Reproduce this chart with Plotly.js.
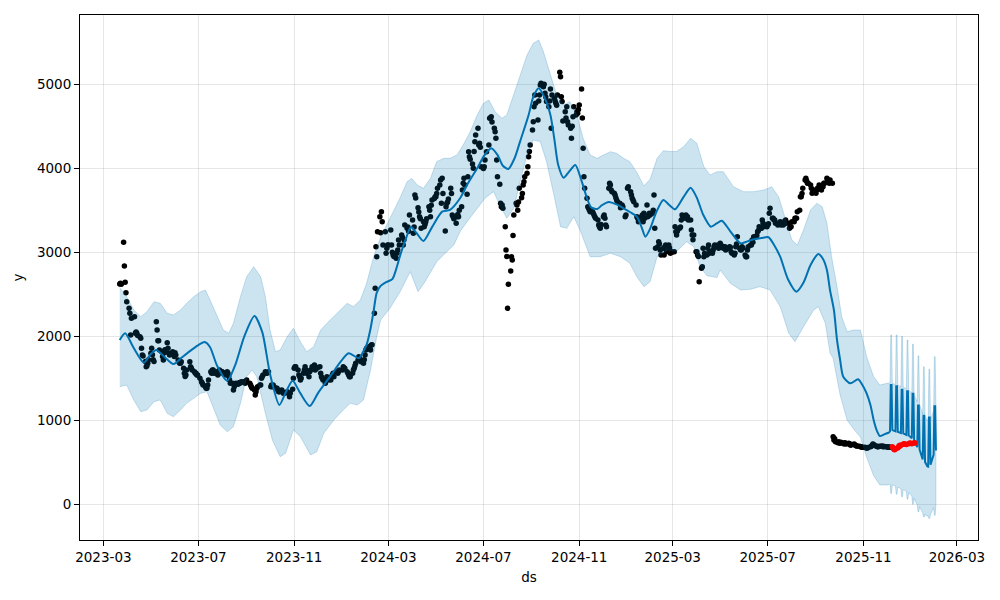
<!DOCTYPE html>
<html>
<head>
<meta charset="utf-8">
<script src="https://cdn.plot.ly/plotly-3.0.1.min.js"></script>
<style>html,body{margin:0;padding:0;background:#fff;}#chart{width:1000px;height:600px;}</style>
</head>
<body>
<div id="chart"></div>
<script>
// ---------- tick labels ----------
const xTickDates = ['2023-03-01','2023-07-01','2023-11-01','2024-03-01','2024-07-01','2024-11-01','2025-03-01','2025-07-01','2025-11-01','2026-03-01'];
const xTickLabels = ['2023-03','2023-07','2023-11','2024-03','2024-07','2024-11','2025-03','2025-07','2025-11','2026-03'];
const yTicks = [0, 1000, 2000, 3000, 4000, 5000];

// ---------- observed data points (history), by month ----------
const obsMonths = ['2023-03','2023-04','2023-05','2023-06','2023-07','2023-08','2023-09','2023-10','2023-11','2023-12',
  '2024-01','2024-02','2024-03','2024-04','2024-05','2024-06','2024-07','2024-08','2024-09','2024-10','2024-11','2024-12',
  '2025-01','2025-02','2025-03','2025-04','2025-05','2025-06','2025-07','2025-08','2025-09','2025-10','2025-11','2025-12'];
const obsDays = [
  [22,23,24,27,28,29,30,31],
  [3,4,5,6,10,11,12,13,14,17,18,19,20,21,24,25,26,27,28],
  [1,2,3,4,5,8,9,10,11,12,15,16,17,18,19,22,23,24,25,26,29,30,31],
  [1,2,5,6,7,8,9,12,13,14,15,16,20,21,22,23,26,27,28,29,30],
  [3,5,6,7,10,11,12,13,14,17,18,19,20,21,24,25,26,27,28,31],
  [1,2,3,4,7,8,9,10,11,14,15,16,17,18,21,22,23,24,25,28,29,30,31],
  [1,5,6,7,8,11,12,13,14,15,18,19,20,21,22,25,26,27,28,29],
  [2,3,4,5,6,9,10,11,12,13,16,17,18,19,20,23,24,25,26,27,30,31],
  [1,2,3,6,7,8,9,10,13,14,15,16,17,20,21,22,24,27,28,29,30],
  [1,4,5,6,7,8,11,12,13,14,15,18,19,20,21,22,26,27,28,29],
  [2,3,4,5,8,9,10,11,12,15,16,17,18,19,22,23,24,25,26,29,30,31],
  [1,2,5,6,7,8,9,12,13,14,15,16,19,20,21,22,23,26,27,28,29],
  [1,4,5,6,7,8,11,12,13,14,15,18,19,20,21,22,25,26,27,28],
  [1,2,3,4,5,8,9,10,11,12,15,16,17,18,19,22,23,24,25,26,29,30],
  [1,2,3,6,7,8,9,10,13,14,15,16,17,20,21,22,23,24,27,28,29,30,31],
  [3,4,5,6,7,10,11,12,13,14,17,18,19,20,21,24,25,26,27,28],
  [1,2,3,5,8,9,10,11,12,15,16,17,18,19,22,23,24,25,26,29,30,31],
  [1,2,5,6,7,8,9,12,13,14,15,16,19,20,21,22,23,26,27,28,29,30],
  [2,3,4,5,6,9,10,11,12,13,16,17,18,19,20,23,24,25,26,27,30],
  [1,2,3,4,7,8,9,10,11,14,15,16,17,18,21,22,23,24,25,28,29,30,31],
  [1,4,5,6,7,8,11,12,13,14,15,18,19,20,21,22,25,26,27,28,29],
  [2,3,4,5,6,9,10,11,12,13,16,17,18,19,20,23,24,26,27,30,31],
  [2,3,6,7,8,9,10,13,14,15,16,17,20,21,22,23,24,27,28,29,30,31],
  [3,4,5,6,7,10,11,12,13,14,17,18,19,20,21,24,25,26,27,28],
  [3,4,5,6,7,10,11,12,13,14,17,18,19,20,21,24,25,26,27,28,31],
  [1,2,3,4,7,8,9,10,11,14,15,16,17,18,21,22,23,24,25,28,29,30],
  [1,2,5,6,7,8,9,12,13,14,15,16,19,20,21,22,23,26,27,28,29,30],
  [2,3,4,5,6,9,10,11,12,13,16,17,18,19,20,23,24,25,26,27,30],
  [1,2,3,4,7,8,9,10,11,14,15,16,17,18,21,22,23,24,25,28,29,30,31],
  [1,4,5,6,7,8,11,12,13,14,15,18,19,20,21,22,25,26,27,28,29],
  [1,2,3,4,5,8,9,10,11,12,15,16,17,18,19,22,23,24,25,26,29,30],
  [1,2,3,6,7,8,9,10,13,14,15,16,17,20,21,22,23,24,27,28,29,30,31],
  [3,4,5,6,7,10,11,12,13,14,17,18,19,20,21,24,25,26,27,28],
  [1,2,3,4,5]
];
const obsValues = [
  [2623,2631,2619,3119,2837,2643,2519,2412],
  [2333,2274,2016,2214,2234,2036,2050,2036,2010,1995,1976,1857,1777,1765,1700,1638,1650,1679,1720],
  [1797,1857,1780,1720,1700,2174,2075,1948,1948,1837,1817,1760,1718,1805,1840,1924,1857,1797,1777,1790,1817,1797,1760],
  [1805,1777,1718,1698,1679,1679,1698,1620,1560,1520,1540,1600,1698,1638,1620,1600,1579,1560,1560,1540,1540],
  [1500,1460,1440,1420,1400,1381,1381,1420,1480,1579,1560,1599,1599,1560,1560,1579,1540,1560,1599,1580],
  [1560,1570,1560,1540,1579,1560,1520,1480,1440,1440,1362,1400,1420,1440,1430,1448,1440,1448,1460,1460,1450,1440,1460],
  [1480,1440,1420,1400,1381,1362,1301,1340,1381,1400,1420,1420,1500,1520,1540,1579,1560,1560,1570,1579],
  [1400,1420,1400,1420,1400,1381,1381,1362,1341,1341,1361,1341,1321,1330,1321,1341,1330,1321,1281,1321,1369,1500],
  [1619,1638,1638,1599,1540,1519,1480,1500,1560,1600,1638,1599,1560,1519,1579,1600,1638,1658,1599,1619,1619],
  [1630,1638,1560,1519,1500,1480,1440,1480,1519,1500,1480,1480,1519,1540,1560,1519,1579,1560,1580,1599],
  [1599,1638,1619,1619,1579,1560,1540,1519,1519,1560,1599,1620,1650,1679,1718,1757,1738,1718,1698,1679,1720,1777],
  [1837,1857,1877,1857,1837,1896,1900,2274,2571,3067,2948,3245,3424,3234,3484,3364,3087,3245,2988,3048,3087],
  [3087,3265,3087,3000,2968,2950,2929,2990,3027,3146,3087,3206,3180,3087,3150,3325,3285,3300,3250,3444],
  [3384,3226,3300,3682,3647,3531,3480,3424,3400,3285,3364,3305,3330,3364,3400,3543,3500,3424,3560,3623,3640,3662],
  [3662,3700,3762,3801,3861,3583,3881,3700,3254,3543,3583,3600,3634,3762,3700,3444,3424,3400,3345,3424,3450,3424,3500],
  [3543,3742,3821,3881,3800,3691,3900,4198,4138,4107,4050,4000,4200,4317,4396,4476,4277,4297,4250,4019],
  [3998,4019,4100,4198,4277,4595,4600,4615,4550,4476,4436,4357,4100,3900,3809,3583,3543,3563,3523,3305,3027,2950],
  [2333,2619,2777,2948,2909,3200,3444,3583,3563,3500,3600,3762,3650,3700,3800,3841,3900,3940,4019,4138,4200,4277],
  [4456,4555,4733,4873,4774,4575,4800,4873,4992,5012,4972,5000,4893,4850,4794,4734,4800,4944,4476,4873,4833],
  [4800,4774,4750,4873,5143,5091,4853,4794,4563,4674,4600,4734,4555,4515,4476,4357,4500,4615,4734,4635,4674,4654,4700],
  [4754,4944,4600,4238,3900,3762,3643,3543,3523,3504,3484,3484,3464,3444,3424,3404,3384,3325,3305,3285,3330],
  [3424,3444,3404,3325,3305,3762,3821,3801,3742,3722,3702,3682,3650,3623,3603,3583,3531,3563,3543,3424,3444],
  [3762,3781,3722,3682,3643,3623,3603,3563,3424,3404,3364,3404,3424,3444,3364,3464,3404,3563,3424,3444,3464,3444],
  [3464,3500,3682,3285,3048,3067,3126,3100,3028,2968,3048,2968,3067,3087,3008,3087,3050,2988,3008,3000],
  [3008,3305,3245,3206,3250,3285,3300,3384,3444,3420,3404,3444,3424,3424,3384,3384,3265,3206,3150,3206,3008],
  [3008,2968,2950,2650,2809,2829,3048,2948,2988,2968,3048,3087,2988,3008,2988,3028,3067,3087,3067,3087,3048,3067],
  [3107,3087,3048,3067,3067,3027,3040,3048,3067,3060,3008,2990,2968,2988,3067,3100,3186,3048,3030,3027,3067,3050],
  [2968,2948,2948,3028,3067,3087,3087,3146,3120,3186,3186,3200,3245,3260,3305,3285,3384,3345,3305,3325,3305],
  [3325,3340,3464,3523,3404,3404,3384,3384,3345,3325,3345,3345,3364,3325,3325,3364,3364,3384,3345,3345,3285,3305,3305],
  [3364,3364,3404,3404,3404,3484,3500,3662,3662,3700,3762,3861,3881,3850,3821,3821,3801,3762,3702,3720,3742],
  [3702,3742,3762,3762,3801,3742,3781,3781,3821,3821,3881,3861,3861,3821,3861,3821,805,766,780,746,734,746],
  [734,726,740,726,718,734,726,718,726,720,706,706,712,718,706,700,694,694,690,686,686,680,678],
  [678,672,670,670,676,686,690,700,718,712,694,690,686,686,690,694,690,686,690,686],
  [686,680,678,682,678]
];

// ---------- test points (red) ----------
const testDates = ['2025-12-08','2025-12-09','2025-12-10','2025-12-11','2025-12-12','2025-12-15','2025-12-16','2025-12-17','2025-12-18','2025-12-19',
  '2025-12-22','2025-12-23','2025-12-24','2025-12-26','2025-12-29','2025-12-30','2025-12-31','2026-01-02','2026-01-05','2026-01-06'];
const testValues = [686,670,655,650,662,670,686,700,694,706,714,720,718,712,720,726,730,722,734,730];

// ---------- fitted yhat over history ----------
const fitDates = ['2023-03-22','2023-03-29','2023-04-09','2023-04-22','2023-04-30','2023-05-08','2023-05-20','2023-05-30','2023-06-10','2023-06-21',
  '2023-06-30','2023-07-09','2023-07-16','2023-07-25','2023-08-07','2023-08-17','2023-08-29','2023-09-11','2023-09-21','2023-10-01',
  '2023-10-13','2023-10-22','2023-10-30','2023-11-09','2023-11-21','2023-12-02','2023-12-17','2023-12-30','2024-01-10','2024-01-23',
  '2024-01-27','2024-02-02','2024-02-07','2024-02-11','2024-02-15','2024-02-20','2024-02-26','2024-03-06','2024-03-11','2024-03-16',
  '2024-03-23','2024-03-30','2024-04-06','2024-04-15','2024-04-26','2024-05-09','2024-05-19','2024-06-01','2024-06-11','2024-06-23',
  '2024-07-02','2024-07-11','2024-07-19','2024-07-26','2024-08-02','2024-08-10','2024-08-17','2024-08-28','2024-09-03','2024-09-10',
  '2024-09-17','2024-09-25','2024-09-30','2024-10-05','2024-10-12','2024-10-19','2024-10-27','2024-11-04','2024-11-11','2024-11-16',
  '2024-11-24','2024-11-30','2024-12-09','2024-12-19','2024-12-28','2025-01-05','2025-01-14','2025-01-20','2025-01-25','2025-01-31',
  '2025-02-08','2025-02-17','2025-02-25','2025-03-04','2025-03-15','2025-03-24','2025-04-01','2025-04-09','2025-04-19','2025-04-26',
  '2025-05-03','2025-05-14','2025-05-27','2025-06-05','2025-06-13','2025-06-23','2025-07-02','2025-07-09','2025-07-17','2025-07-27',
  '2025-08-07','2025-08-16','2025-08-25','2025-09-04','2025-09-10','2025-09-15','2025-09-19','2025-09-24','2025-09-28','2025-10-02',
  '2025-10-06','2025-10-15','2025-10-25','2025-10-30','2025-11-05','2025-11-10','2025-11-14','2025-11-18','2025-11-22','2025-11-27',
  '2025-12-03','2025-12-05'];
const fitValues = [1956,2036,1860,1686,1780,1837,1740,1670,1750,1829,
  1890,1932,1870,1650,1471,1650,2000,2242,2050,1550,
  1182,1350,1471,1320,1170,1330,1519,1690,1798,1738,
  1790,1900,2090,2300,2520,2600,2640,2680,2800,2960,
  3150,3300,3230,3135,3300,3484,3504,3643,3820,4000,
  4150,4238,4160,4030,3992,4120,4317,4635,4850,4952,
  4850,4635,4350,4040,3888,3960,4040,3850,3643,3540,
  3515,3560,3600,3570,3524,3480,3424,3300,3186,3280,
  3480,3623,3560,3512,3660,3769,3650,3450,3305,3340,
  3376,3250,3107,3130,3155,3170,3179,3090,2948,2680,
  2531,2640,2850,2980,2920,2789,2550,2313,1956,1718,
  1519,1440,1488,1430,1321,1180,1004,880,813,830,
  852,862];

// ---------- uncertainty interval over history ----------
const upperDates = ['2023-03-22','2023-03-31','2023-04-09','2023-04-18','2023-04-26','2023-05-05','2023-05-13','2023-05-22','2023-05-30','2023-06-08',
  '2023-06-16','2023-06-25','2023-07-04','2023-07-10','2023-07-16','2023-07-25','2023-08-02','2023-08-09','2023-08-15','2023-08-24',
  '2023-09-01','2023-09-10','2023-09-19','2023-09-25','2023-10-01','2023-10-08','2023-10-14','2023-10-23','2023-10-31','2023-11-09',
  '2023-11-17','2023-11-26','2023-12-05','2023-12-13','2023-12-22','2023-12-30','2024-01-08','2024-01-16','2024-01-25','2024-02-02',
  '2024-02-11','2024-02-20','2024-03-03','2024-03-16','2024-03-25','2024-03-31','2024-04-07','2024-04-15','2024-04-24','2024-05-02',
  '2024-05-11','2024-05-19','2024-05-28','2024-06-05','2024-06-14','2024-06-23','2024-07-01','2024-07-08','2024-07-16','2024-07-25',
  '2024-07-31','2024-08-09','2024-08-17','2024-08-26','2024-09-03','2024-09-10','2024-09-16','2024-09-25','2024-10-03','2024-10-12',
  '2024-10-20','2024-10-29','2024-11-06','2024-11-15','2024-11-24','2024-12-02','2024-12-11','2024-12-19','2024-12-28','2025-01-05',
  '2025-01-14','2025-01-23','2025-01-31','2025-02-09','2025-02-17','2025-02-26','2025-03-06','2025-03-15','2025-03-24','2025-04-01',
  '2025-04-10','2025-04-18','2025-04-27','2025-05-05','2025-05-18','2025-05-31','2025-06-13','2025-06-26','2025-07-06','2025-07-15',
  '2025-07-24','2025-08-01','2025-08-08','2025-08-16','2025-08-25','2025-09-02','2025-09-09','2025-09-15','2025-09-21','2025-09-28',
  '2025-10-04','2025-10-11','2025-10-19','2025-10-28','2025-10-31','2025-11-05','2025-11-14','2025-11-22','2025-12-01','2025-12-05'];
const upperValues = [2580,2472,2313,2234,2293,2412,2393,2274,2254,2313,
  2393,2472,2531,2551,2432,2234,2075,2036,2155,2472,
  2710,2829,2710,2472,2075,1817,1837,1995,2095,1936,
  1817,1877,2075,2155,2234,2313,2393,2353,2432,2631,
  2948,3180,3400,3650,3841,3881,3801,3762,3881,4079,
  4119,4119,4158,4277,4436,4635,4774,4813,4674,4595,
  4635,4873,5111,5349,5488,5528,5389,5111,4873,4754,
  4793,4635,4357,4158,4119,4158,4198,4178,4119,4079,
  3950,3790,3870,4120,4210,4200,4200,4257,4357,4297,
  4019,3920,3960,3960,3781,3722,3722,3742,3781,3662,
  3384,3146,3087,3265,3504,3583,3543,3345,2948,2591,
  2234,2055,2075,2075,1960,1757,1519,1420,1440,1445];
const lowerDates = ['2023-03-22','2023-03-31','2023-04-09','2023-04-18','2023-04-26','2023-05-05','2023-05-13','2023-05-22','2023-05-30','2023-06-08',
  '2023-06-16','2023-06-25','2023-07-04','2023-07-12','2023-07-20','2023-07-29','2023-08-07','2023-08-15','2023-08-24','2023-09-01',
  '2023-09-08','2023-09-14','2023-09-25','2023-10-04','2023-10-14','2023-10-21','2023-10-31','2023-11-09','2023-11-22','2023-11-30',
  '2023-12-09','2023-12-22','2024-01-03','2024-01-12','2024-01-21','2024-01-29','2024-02-07','2024-02-15','2024-02-20','2024-03-03',
  '2024-03-16','2024-03-29','2024-04-08','2024-04-17','2024-05-02','2024-05-15','2024-05-24','2024-06-01','2024-06-10','2024-06-23',
  '2024-07-03','2024-07-14','2024-07-23','2024-07-31','2024-08-09','2024-08-17','2024-08-26','2024-09-03','2024-09-12','2024-09-20',
  '2024-09-29','2024-10-08','2024-10-16','2024-10-25','2024-11-02','2024-11-15','2024-11-28','2024-12-11','2024-12-24','2025-01-05',
  '2025-01-14','2025-01-23','2025-01-31','2025-02-09','2025-02-22','2025-03-06','2025-03-19','2025-03-28','2025-04-05','2025-04-14',
  '2025-04-27','2025-05-01','2025-05-14','2025-05-27','2025-06-09','2025-06-21','2025-07-04','2025-07-17','2025-07-28','2025-08-05',
  '2025-08-16','2025-08-29','2025-09-04','2025-09-13','2025-09-19','2025-09-23','2025-10-02','2025-10-11','2025-10-19','2025-10-28',
  '2025-11-05','2025-11-14','2025-11-22','2025-12-01','2025-12-05'];
const lowerValues = [1400,1420,1242,1103,1123,1222,1242,1083,1043,1123,
  1202,1262,1321,1341,1162,944,864,924,1202,1519,
  1599,1519,1083,765,567,607,885,805,587,626,
  845,1004,1123,1202,1182,1242,1599,1995,2194,2333,
  2531,2769,2531,2650,2888,3007,3087,3245,3364,3524,
  3643,3722,3543,3405,3524,3841,4158,4337,4317,4079,
  3702,3305,3285,3424,3265,2948,2948,2988,2948,2869,
  2710,2591,2650,2948,3027,3010,3126,3067,2830,2720,
  2700,2789,2631,2551,2560,2591,2551,2353,2036,1936,
  2114,2313,2353,2155,1800,1738,1300,1000,900,800,
  560,340,230,230,240];

// ---------- future (daily) forecast ----------
const futureDates = ['2025-12-06','2025-12-07','2025-12-08','2025-12-09','2025-12-10','2025-12-11','2025-12-12','2025-12-13','2025-12-14','2025-12-15',
  '2025-12-16','2025-12-17','2025-12-18','2025-12-19','2025-12-20','2025-12-21','2025-12-22','2025-12-23','2025-12-24','2025-12-25',
  '2025-12-26','2025-12-27','2025-12-28','2025-12-29','2025-12-30','2025-12-31','2026-01-01','2026-01-02','2026-01-03','2026-01-04',
  '2026-01-05','2026-01-06','2026-01-07','2026-01-08','2026-01-09','2026-01-10','2026-01-11','2026-01-12','2026-01-13','2026-01-14',
  '2026-01-15','2026-01-16','2026-01-17','2026-01-18','2026-01-19','2026-01-20','2026-01-21','2026-01-22','2026-01-23','2026-01-24',
  '2026-01-25','2026-01-26','2026-01-27','2026-01-28','2026-01-29','2026-01-30','2026-01-31','2026-02-01','2026-02-02'];
const futureYhat = [1420,1420,885,880,875,872,870,1405,1405,864,
  860,856,852,848,1365,1365,845,840,835,830,
  826,1347,1347,820,812,805,796,786,1315,1315,
  760,740,720,700,680,1176,1176,650,620,590,
  560,535,1053,1053,505,480,462,450,448,1034,
  1034,470,500,530,560,590,1166,1166,640];
const futureUpper = [2016,2016,1440,1440,1435,1430,1425,2016,2016,1420,
  1415,1410,1405,1400,2000,2000,1395,1390,1385,1380,
  1375,1956,1956,1365,1355,1345,1335,1320,1907,1907,
  1300,1280,1260,1240,1220,1767,1767,1190,1160,1130,
  1100,1075,1638,1638,1050,1030,1010,1000,1000,1609,
  1609,1010,1030,1060,1090,1120,1757,1757,1180];
const futureLower = [130,130,230,228,225,222,220,120,120,205,
  200,195,190,185,90,90,175,170,165,160,
  155,60,60,140,130,120,110,100,0,0,
  70,50,30,10,-10,-90,-90,-30,-50,-70,
  -90,-105,-150,-150,-120,-130,-140,-145,-140,-170,
  -170,-120,-100,-80,-60,-40,-130,-130,0];

// ---------- build traces ----------
const obsX = [], obsY = [];
obsMonths.forEach((m, i) => {
  obsDays[i].forEach((d, j) => {
    obsX.push(m + '-' + String(d).padStart(2, '0'));
    obsY.push(obsValues[i][j]);
  });
});

const BLUE = '#0072B2';
const BAND = 'rgba(0,114,178,0.2)';

const bandX = upperDates.concat(futureDates, futureDates.slice().reverse(), lowerDates.slice().reverse());
const bandY = upperValues.concat(futureUpper, futureLower.slice().reverse(), lowerValues.slice().reverse());

const traces = [
  { x: obsX, y: obsY, type: 'scatter', mode: 'markers',
    marker: { color: 'black', size: 5.5 }, hoverinfo: 'skip', showlegend: false },
  { x: fitDates, y: fitValues, type: 'scatter', mode: 'lines',
    line: { color: BLUE, width: 2, shape: 'spline', smoothing: 0.7 }, hoverinfo: 'skip', showlegend: false },
  { x: [fitDates[fitDates.length - 1]].concat(futureDates), y: [fitValues[fitValues.length - 1]].concat(futureYhat),
    type: 'scatter', mode: 'lines', line: { color: BLUE, width: 2 }, hoverinfo: 'skip', showlegend: false },
  { x: bandX, y: bandY, type: 'scatter', mode: 'lines', fill: 'toself', fillcolor: BAND,
    line: { color: BAND, width: 1 }, hoverinfo: 'skip', showlegend: false },
  { x: testDates, y: testValues, type: 'scatter', mode: 'markers',
    marker: { color: 'red', size: 5.5 }, hoverinfo: 'skip', showlegend: false }
];

const FONT = 'DejaVu Sans, Liberation Sans, sans-serif';
const axisCommon = {
  showline: true, mirror: true, linecolor: 'black', linewidth: 1,
  ticks: 'outside', ticklen: 5, tickwidth: 1, tickcolor: 'black',
  showgrid: true, gridcolor: 'rgba(128,128,128,0.2)', gridwidth: 1,
  zeroline: false, tickfont: { family: FONT, size: 13.5, color: 'black' }
};

const layout = {
  width: 1000, height: 600,
  margin: { l: 80, r: 22, t: 15, b: 60 },
  paper_bgcolor: 'white', plot_bgcolor: 'white',
  showlegend: false,
  xaxis: Object.assign({}, axisCommon, {
    type: 'date', range: ['2023-01-30', '2026-03-28'],
    tickmode: 'array', tickvals: xTickDates, ticktext: xTickLabels,
    title: { text: 'ds', font: { family: FONT, size: 13.5, color: 'black' }, standoff: 8 }
  }),
  yaxis: Object.assign({}, axisCommon, {
    range: [-425, 5825], tickmode: 'array', tickvals: yTicks, ticktext: yTicks.map(String),
    title: { text: 'y', font: { family: FONT, size: 13.5, color: 'black' }, standoff: 10 }
  })
};

Plotly.newPlot('chart', traces, layout, { staticPlot: true, displayModeBar: false });
</script>
</body>
</html>
